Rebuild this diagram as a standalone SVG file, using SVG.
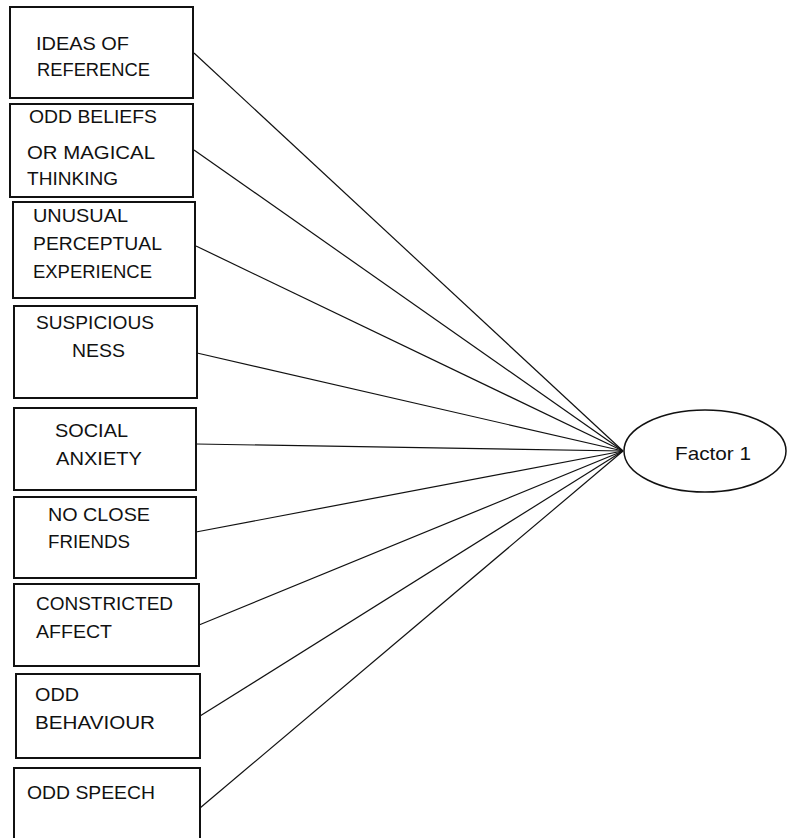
<svg xmlns="http://www.w3.org/2000/svg" width="787" height="838" viewBox="0 0 787 838">
<style>
.box{fill:#fff;stroke:#111;stroke-width:2}
.lbl{font-family:"Liberation Sans",Arial,sans-serif;font-size:18px;fill:#111}
.con{stroke:#111;stroke-width:1.2;fill:none}
.fac{fill:#fff;stroke:#111;stroke-width:1.5}
</style>
<rect width="787" height="838" fill="#fff"/>
<g id="connectors">
<line class="con" x1="194" y1="53" x2="623" y2="451"/>
<line class="con" x1="194" y1="150" x2="623" y2="451"/>
<line class="con" x1="196" y1="246" x2="623" y2="451"/>
<line class="con" x1="197" y1="353" x2="623" y2="451"/>
<line class="con" x1="196" y1="444" x2="623" y2="451"/>
<line class="con" x1="196" y1="532" x2="623" y2="451"/>
<line class="con" x1="199" y1="625" x2="623" y2="451"/>
<line class="con" x1="200" y1="716" x2="623" y2="451"/>
<line class="con" x1="200" y1="808" x2="623" y2="451"/>
</g>
<g id="n1"><rect class="box" x="10" y="7" width="183" height="91"/>
<text class="lbl" x="36" y="50" textLength="93" lengthAdjust="spacingAndGlyphs">IDEAS OF</text>
<text class="lbl" x="37" y="76" textLength="113" lengthAdjust="spacingAndGlyphs">REFERENCE</text></g>
<g id="n2"><rect class="box" x="10" y="104" width="183" height="93"/>
<text class="lbl" x="29" y="123" textLength="128" lengthAdjust="spacingAndGlyphs">ODD BELIEFS</text>
<text class="lbl" x="27" y="159" textLength="128" lengthAdjust="spacingAndGlyphs">OR MAGICAL</text>
<text class="lbl" x="27" y="185" textLength="91" lengthAdjust="spacingAndGlyphs">THINKING</text></g>
<g id="n3"><rect class="box" x="13" y="202" width="182" height="96"/>
<text class="lbl" x="33" y="222" textLength="95" lengthAdjust="spacingAndGlyphs">UNUSUAL</text>
<text class="lbl" x="33" y="250" textLength="129" lengthAdjust="spacingAndGlyphs">PERCEPTUAL</text>
<text class="lbl" x="33" y="278" textLength="119" lengthAdjust="spacingAndGlyphs">EXPERIENCE</text></g>
<g id="n4"><rect class="box" x="14" y="306" width="183" height="92"/>
<text class="lbl" x="36" y="329" textLength="118" lengthAdjust="spacingAndGlyphs">SUSPICIOUS</text>
<text class="lbl" x="72" y="357" textLength="53" lengthAdjust="spacingAndGlyphs">NESS</text></g>
<g id="n5"><rect class="box" x="14" y="408" width="182" height="82"/>
<text class="lbl" x="55" y="437" textLength="73" lengthAdjust="spacingAndGlyphs">SOCIAL</text>
<text class="lbl" x="56" y="465" textLength="86" lengthAdjust="spacingAndGlyphs">ANXIETY</text></g>
<g id="n6"><rect class="box" x="14" y="497" width="182" height="81"/>
<text class="lbl" x="48" y="521" textLength="102" lengthAdjust="spacingAndGlyphs">NO CLOSE</text>
<text class="lbl" x="48" y="548" textLength="82" lengthAdjust="spacingAndGlyphs">FRIENDS</text></g>
<g id="n7"><rect class="box" x="14" y="584" width="185" height="82"/>
<text class="lbl" x="36" y="610" textLength="137" lengthAdjust="spacingAndGlyphs">CONSTRICTED</text>
<text class="lbl" x="36" y="638" textLength="76" lengthAdjust="spacingAndGlyphs">AFFECT</text></g>
<g id="n8"><rect class="box" x="16" y="674" width="184" height="84"/>
<text class="lbl" x="35" y="701" textLength="44" lengthAdjust="spacingAndGlyphs">ODD</text>
<text class="lbl" x="35" y="729" textLength="120" lengthAdjust="spacingAndGlyphs">BEHAVIOUR</text></g>
<g id="n9"><rect class="box" x="14" y="768" width="186" height="80"/>
<text class="lbl" x="27" y="799" textLength="128" lengthAdjust="spacingAndGlyphs">ODD SPEECH</text></g>
<g id="factor1"><ellipse class="fac" cx="705" cy="451" rx="81" ry="41"/>
<text class="lbl" x="675" y="460" style="font-size:19px" textLength="76" lengthAdjust="spacingAndGlyphs">Factor 1</text></g>
</svg>
